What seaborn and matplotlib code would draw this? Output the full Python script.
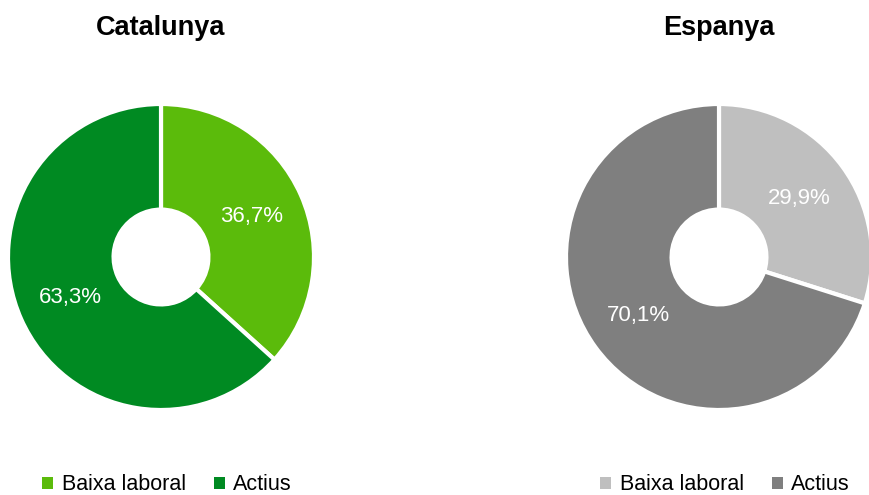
import numpy as np
import matplotlib.pyplot as plt
import seaborn as sns
from matplotlib.patches import Patch

regions = ['Catalunya', 'Espanya']
categories = ['Baixa laboral', 'Actius']
catalunya_vals = [36.7, 63.3]
espanya_vals = [29.9, 70.1]
values = [catalunya_vals, espanya_vals]
palettes = [['#5BBB0B', '#008A22'], ['#BFBFBF', '#7F7F7F']]

sns.set_theme(style='white')
plt.rcParams['font.family'] = ['Liberation Sans', 'DejaVu Sans']
plt.rcParams['text.color'] = 'black'

fig = plt.figure(figsize=(8.69, 4.95), dpi=100)
W, H = 869, 495
centers = [161, 719]
r = 153

for i, reg in enumerate(regions):
    cx = centers[i]
    ax = fig.add_axes([(cx - r) / W, (238 - r) / H, 2 * r / W, 2 * r / H])
    cols = sns.color_palette(palettes[i])
    wedges, texts, autotexts = ax.pie(
        values[i], colors=cols, startangle=90, counterclock=False,
        autopct=lambda p: f'{p:.1f}%'.replace('.', ','), pctdistance=0.65,
        wedgeprops=dict(width=0.69, edgecolor='white', linewidth=3),
        textprops=dict(color='white', fontsize=16))
    ax.set_aspect('equal')
    ax.set_xlim(-1, 1)
    ax.set_ylim(-1, 1)
    ax.axis('off')

    fig.text(cx / W, 1 - 28 / H, reg, ha='center', va='center',
             fontsize=19.5, fontweight='bold', color='black')

    handles = [Patch(facecolor=c, edgecolor='none') for c in cols]
    fig.legend(handles, categories, loc='center', bbox_to_anchor=((cx + 6) / W, 1 - 485 / H),
               ncol=2, frameon=False, fontsize=15.5, handlelength=0.5, handleheight=0.5,
               handletextpad=0.4, columnspacing=1.3, labelcolor='black',
               borderpad=0.2)

fig.savefig('out.png', dpi=100)
